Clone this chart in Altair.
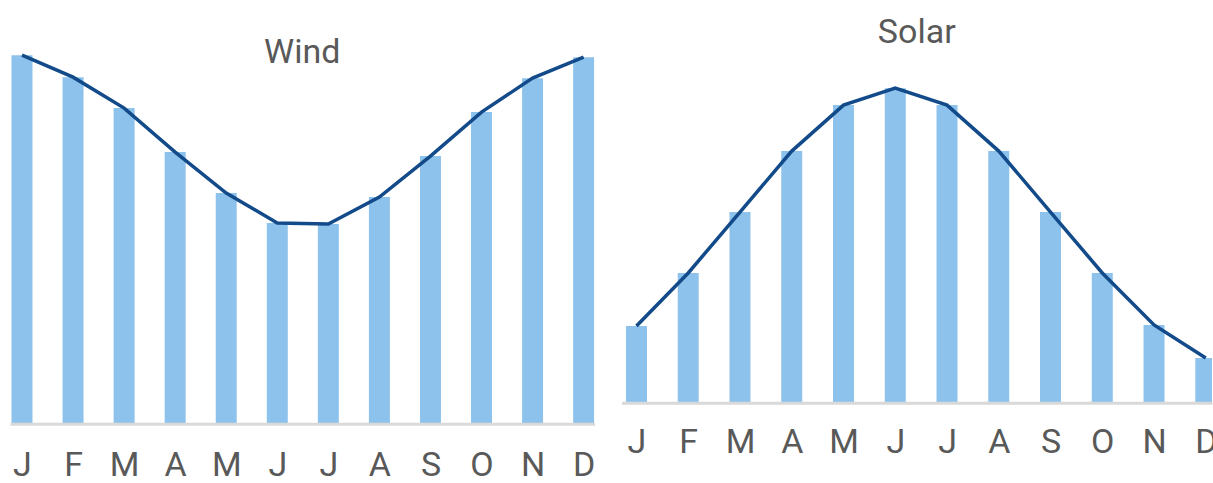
import altair as alt
import pandas as pd

# ---- data (relative units, no y axis shown) ----
months = ["J", "F", "M", "A", "M", "J", "J", "A", "S", "O", "N", "D"]
month_index = list(range(1, 13))
wind = [369, 347, 316, 272, 231, 201, 200, 227, 268, 312, 346, 367]
solar = [77, 130, 191, 252, 298, 315, 298, 252, 191, 130, 78, 45]

BAR = "#8CC2EB"
LINE = "#134B8A"
TEXT = "#595959"
FONT = "Roboto, Open Sans, sans-serif"

label_expr = "[" + ",".join("'%s'" % m for m in months) + "][datum.value - 1]"


def panel(values, title, x_domain, width, height, y_max, title_offset, label_pad):
    df = pd.DataFrame({"m": month_index, "month": months, "v": values})
    base = alt.Chart(df)
    x = alt.X(
        "m:Q",
        scale=alt.Scale(domain=x_domain, nice=False, zero=False, padding=0),
        axis=alt.Axis(
            values=month_index,
            labelExpr=label_expr,
            ticks=False,
            tickSize=0,
            grid=False,
            domainColor="#D9D9D9",
            domainWidth=3,
            labelFontSize=34,
            labelColor=TEXT,
            labelFont=FONT,
            labelPadding=label_pad,
            labelFlush=False,
            labelOverlap=False,
            title=None,
            zindex=1,
        ),
    )
    y = alt.Y("v:Q", scale=alt.Scale(domain=[0, y_max], nice=False, padding=0), axis=None)
    bars = base.mark_bar(width=21, color=BAR, clip=True).encode(x=x, y=y)
    line = base.mark_line(color=LINE, strokeWidth=3.5, clip=True).encode(x=x, y=y)
    return alt.layer(bars, line).properties(
        width=width,
        height=height,
        view=alt.ViewBackground(stroke="transparent", strokeOpacity=0),
        title=alt.TitleParams(
            title,
            offset=title_offset,
            fontSize=34,
            font=FONT,
            color=TEXT,
            fontWeight="normal",
            anchor="middle",
        ),
    )


wind_chart = panel(wind, "Wind", [0.765, 12.213], 585, 414, 414, -60, 25)
solar_chart = panel(solar, "Solar", [0.7104, 12.12], 591, 393, 393, -40, 23)

chart = (
    alt.hconcat(wind_chart, solar_chart, spacing=26)
    .properties(padding={"left": 10, "top": 10, "right": -4, "bottom": 0})
    .configure_view(stroke="transparent", strokeOpacity=0)
    .configure(background="white")
)

chart.save("out.html", embed_options={"renderer": "svg", "actions": False})
